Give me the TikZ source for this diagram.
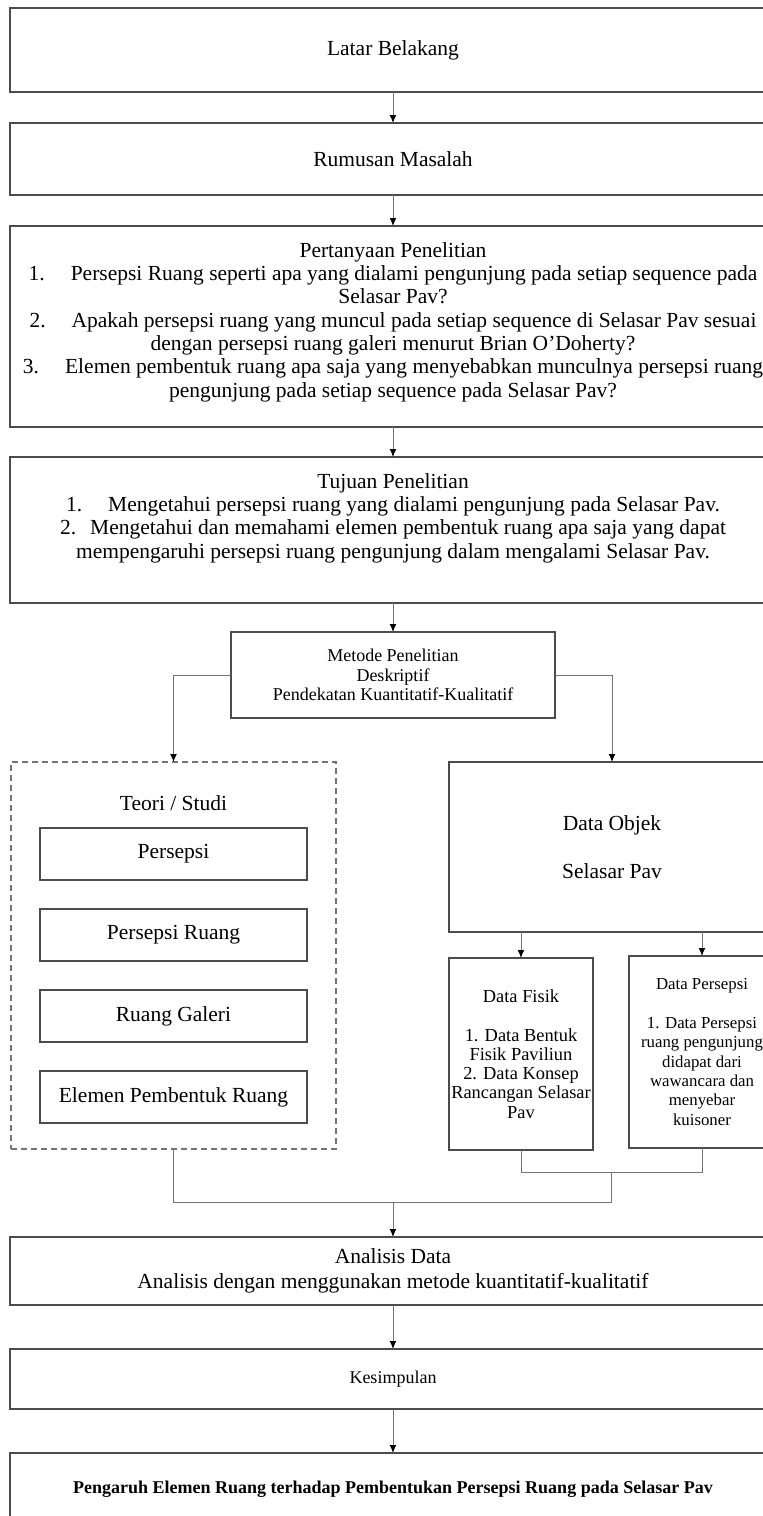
\documentclass[tikz,border=0pt]{standalone}
\usepackage{fontspec}
\setmainfont{Liberation Serif}
\usepackage{tikz}
\usetikzlibrary{positioning}
\usetikzlibrary{arrows.meta}
\tikzset{>={Latex[length=4pt,width=3.4pt,black]}}
\tikzset{
  bigbox/.style={draw=black!70, line width=1pt, rectangle, outer sep=0pt, inner sep=0pt,
                 align=center, font=\fontsize{10.75}{11.65}\selectfont},
  conn/.style={draw=black!55, line width=0.5pt},
  arr/.style={conn, ->},
  smalltxt/.style={font=\fontsize{9}{9.75}\selectfont},
  bigtxt/.style={inner sep=0pt, align=center, font=\fontsize{10.75}{11.65}\selectfont}
}

\begin{document}
\begin{tikzpicture}[x=0.5pt, y=-0.5pt]
      \useasboundingbox (0,0) rectangle (763,1516);
      \node (latar) at (393,50) [bigbox, minimum width=383pt, minimum height=42pt] {Latar Belakang};
      \node (rumusan) at (393,159) [bigbox, minimum width=383pt, minimum height=36pt] {Rumusan Masalah};
      \node (tanya) at (393,326.5) [bigbox, minimum width=383pt, minimum height=100.5pt] {};
      \node (tanyatxt) at (393,322) [bigtxt] {Pertanyaan Penelitian\\
        1.\hspace{13pt}Persepsi Ruang seperti apa yang dialami pengunjung pada setiap sequence pada\\
        Selasar Pav?\\
        2.\hspace{13pt}Apakah persepsi ruang yang muncul pada setiap sequence di Selasar Pav sesuai\\
        dengan persepsi ruang galeri menurut Brian O'Doherty?\\
        3.\hspace{13pt}Elemen pembentuk ruang apa saja yang menyebabkan munculnya persepsi ruang\\
        pengunjung pada setiap sequence pada Selasar Pav?};
      \node (tujuan) at (393,530) [bigbox, minimum width=383pt, minimum height=73pt] {};
      \node (tujuantxt) at (393,518) [bigtxt] {Tujuan Penelitian\\
        1.\hspace{13pt}Mengetahui persepsi ruang yang dialami pengunjung pada Selasar Pav.\\
        2.\hspace{7pt}Mengetahui dan memahami elemen pembentuk ruang apa saja yang dapat\\
        mempengaruhi persepsi ruang pengunjung dalam mengalami Selasar Pav.};
      \node (metode) at (393,675) [bigbox, smalltxt, minimum width=162pt, minimum height=43pt]
        {Metode Penelitian\\Deskriptif\\Pendekatan Kuantitatif-Kualitatif};

      % teori / studi
      \node (teori) at (173.5,955.5) [bigbox, draw=black!55, line width=0.6pt,
        dash pattern=on 3pt off 2pt, minimum width=162.5pt, minimum height=193.5pt] {};
      \node (teoritxt) at (173.5,803) [bigtxt] {Teori / Studi};
      \node (persepsi) at (173.5,853.5) [bigbox, minimum width=133.5pt, minimum height=26pt] {Persepsi};
      \node (pruang) at (173.5,935) [bigbox, minimum width=133.5pt, minimum height=26pt] {Persepsi Ruang};
      \node (galeri) at (173.5,1016) [bigbox, minimum width=133.5pt, minimum height=26pt] {Ruang Galeri};
      \node (elemen) at (173.5,1097) [bigbox, minimum width=133.5pt, minimum height=26pt] {Elemen Pembentuk Ruang};

      % data objek
      \node (objek) at (612,847) [bigbox, minimum width=163pt, minimum height=85pt]
        {Data Objek\\[12pt]Selasar Pav};
      \node (fisik) at (521,1054) [bigbox, font=\fontsize{9.2}{9.65}\selectfont,
        minimum width=72pt, minimum height=96pt]
        {Data Fisik\\[9.65pt]1. Data Bentuk\\Fisik Paviliun\\2. Data Konsep\\Rancangan Selasar\\Pav};
      \node (dpersepsi) at (702,1052) [bigbox, font=\fontsize{8.4}{9.65}\selectfont,
        minimum width=73pt, minimum height=96pt]
        {Data Persepsi\\[9.65pt]1. Data Persepsi\\ruang pengunjung\\didapat dari\\wawancara dan\\menyebar\\kuisoner};

      \node (analisis) at (393,1271) [bigbox, font=\fontsize{10.75}{12.4}\selectfont,
        minimum width=383pt, minimum height=34pt]
        {Analisis Data\\Analisis dengan menggunakan metode kuantitatif-kualitatif};
      \node (simpul) at (393,1379) [bigbox, smalltxt, minimum width=383pt, minimum height=30pt] {Kesimpulan};
      \node (pengaruh) at (393,1489) [bigbox, font=\fontsize{9}{9.75}\selectfont\bfseries,
        minimum width=383pt, minimum height=36pt]
        {Pengaruh Elemen Ruang terhadap Pembentukan Persepsi Ruang pada Selasar Pav};

      \coordinate (dmid) at (611,1172);
      \coordinate (merge) at (393,1202);

      \draw[arr] (latar) -- (rumusan);
      \draw[arr] (rumusan) -- (tanya);
      \draw[arr] (tanya) -- (tujuan);
      \draw[arr] (tujuan) -- (metode);
      \draw[arr] (metode.west) -| (teori.north);
      \draw[arr] (metode.east) -| (objek.north);
      \draw[arr] (objek.south -| fisik.north) -- (fisik.north);
      \draw[arr] (objek.south -| dpersepsi.north) -- (dpersepsi.north);
      \draw[conn] (fisik.south) |- (dmid) -| (dpersepsi.south);
      \draw[conn] (teori.south) |- (dmid |- merge) -- (dmid);
      \draw[arr] (merge) -- (analisis);
      \draw[arr] (analisis) -- (simpul);
      \draw[arr] (simpul) -- (pengaruh);
    \end{tikzpicture}
\end{document}
